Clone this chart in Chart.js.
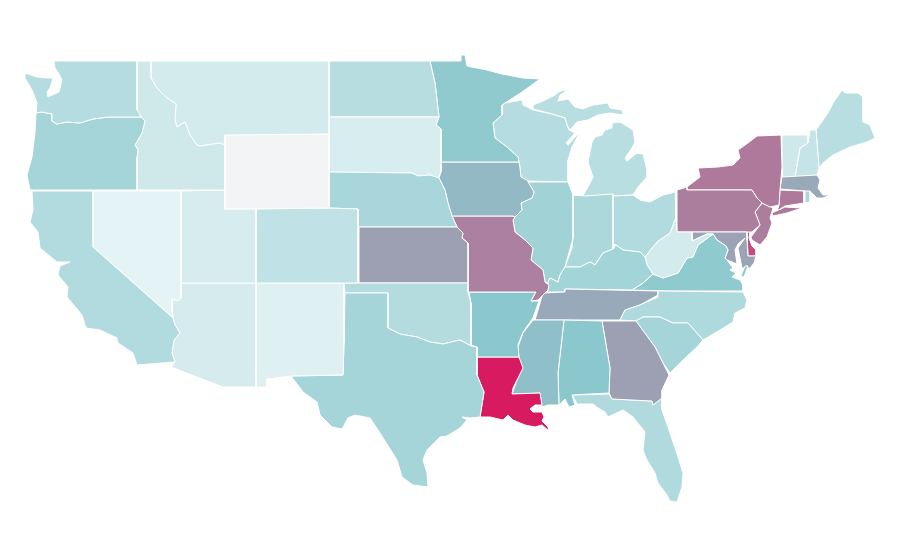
<!DOCTYPE html>
<html><head><meta charset="utf-8">
<style>html,body{margin:0;padding:0;background:#fff}#wrap{width:900px;height:560px}</style>
<script src="https://cdn.jsdelivr.net/npm/chart.js@4"></script>
</head><body><div id="wrap"><canvas id="c" width="900" height="560"></canvas></div>
<script>
// State outlines in map units, one small list per state
const WA=[[54,61],[137,61],[137,110],[139,113],[141,117],[108,117],[93,119],[80,123],[67,122],[57,124],[52,121],[52,114],[42,112],[36,113],[37,103],[32,90],[25,78],[25,73],[37,77],[48,78],[53,78],[50,88],[47,92],[48,97],[59,92],[62,80],[58,72],[55,68]];
const OR=[[36,113],[42,112],[52,114],[52,121],[57,124],[67,122],[80,123],[93,119],[108,117],[141,117],[145,121],[142,133],[135,145],[138,150],[137,157],[137,190],[30,190],[27,175],[32,157],[35,133]];
const CA=[[32,191],[93,191],[93,247],[173,318],[175,325],[180,333],[174,340],[172,353],[175,362],[137,365],[133,353],[118,343],[117,338],[100,330],[86,328],[82,315],[67,297],[68,287],[58,275],[60,266],[70,262],[57,262],[40,248],[38,232],[30,222],[33,210]];
const NV=[[93,191],[181,191],[181,298],[178,301],[172,299],[172,310],[173,318],[93,247]];
const ID=[[137,61],[151,61],[151,78],[157,88],[167,98],[176,104],[175,120],[177,127],[185,122],[190,135],[197,145],[200,146],[220,143],[225,145],[225,190],[137,190],[137,157],[138,150],[135,145],[142,133],[145,121],[141,117],[137,110]];
const MT=[[151,61],[329,61],[329,134],[225,135],[225,145],[220,143],[200,146],[197,145],[190,135],[185,122],[177,127],[175,120],[176,104],[167,98],[157,88],[151,78]];
const WY=[[225,135],[329,134],[329,208],[225,209]];
const UT=[[181,191],[225,190],[225,209],[256,209],[256,283],[181,283]];
const CO=[[256,209],[329,208],[358,209],[358,283],[256,283]];
const AZ=[[181,283],[256,283],[256,387],[223,387],[171,367],[175,362],[172,353],[174,340],[180,333],[175,325],[173,318],[172,299],[178,301],[181,298]];
const NM=[[256,283],[344,283],[344,343],[343,375],[291,376],[267,379],[267,387],[256,387]];
const TX=[[345,293],[388,293],[388,328],[400,334],[417,337],[430,342],[443,344],[460,340],[471,346],[477,347],[477,375],[484,392],[480,417],[470,418],[462,417],[467,420],[460,428],[447,436],[440,437],[427,450],[423,460],[427,473],[428,487],[413,485],[402,477],[397,460],[380,433],[370,418],[355,415],[348,418],[342,429],[332,427],[320,415],[317,402],[303,392],[291,376],[343,375],[344,343]];
const OK=[[344,283],[468,283],[468,292],[471,303],[471,346],[460,340],[443,344],[430,342],[417,337],[400,334],[388,328],[388,293],[345,293]];
const KS=[[359,227],[457,227],[463,233],[462,238],[468,243],[468,283],[359,283]];
const NE=[[329,172],[412,173],[418,176],[430,175],[439,178],[445,190],[448,203],[452,216],[457,227],[358,227],[358,209],[329,208]];
const SD=[[329,117],[439,117],[436,125],[441,129],[441,172],[438,178],[430,175],[418,176],[412,173],[329,172]];
const ND=[[329,61],[430,61],[435,83],[437,100],[439,117],[329,117]];
const MN=[[430,61],[461,61],[461,55],[465,55],[467,66],[487,70],[502,74],[523,78],[540,79],[522,92],[505,103],[502,105],[502,115],[493,123],[495,138],[507,147],[518,157],[519,162],[441,162],[441,129],[436,125],[439,117],[437,100],[435,83]];
const IA=[[441,162],[519,162],[520,168],[521,177],[527,180],[534,192],[532,198],[521,203],[522,210],[515,217],[513,216],[452,216],[448,203],[445,190],[439,178],[441,172]];
const MO=[[452,216],[513,216],[515,217],[513,220],[515,232],[525,240],[533,248],[531,260],[543,270],[545,282],[549,285],[548,290],[538,300],[531,301],[536,292],[468,292],[468,243],[462,238],[463,233],[457,227]];
const AR=[[469,292],[536,292],[531,301],[539,301],[533,318],[523,332],[518,345],[519,357],[477,357],[477,347],[471,345],[471,303]];
const LA=[[477,357],[519,357],[523,368],[513,388],[512,394],[540,393],[542,405],[535,405],[530,409],[533,412],[542,412],[544,417],[542,421],[548,427],[549,431],[542,425],[535,427],[525,425],[513,420],[508,415],[503,420],[490,417],[480,417],[484,392],[477,375]];
const MS=[[533,320],[564,320],[558,373],[559,405],[548,405],[542,407],[540,393],[512,394],[520,372],[518,347],[523,333]];
const AL=[[564,320],[602,321],[610,368],[609,393],[572,395],[575,405],[569,407],[565,399],[559,405],[558,373]];
const GA=[[602,321],[636,321],[655,347],[663,363],[669,375],[662,390],[662,398],[653,405],[652,401],[612,399],[609,393],[610,368]];
const FL=[[572,395],[609,394],[612,399],[652,401],[653,405],[662,398],[662,410],[670,433],[678,457],[683,473],[682,487],[677,502],[670,501],[667,495],[658,483],[655,473],[647,460],[643,450],[645,432],[633,417],[623,410],[608,417],[605,412],[598,408],[593,404],[577,404],[575,400]];
const SC=[[636,321],[643,317],[660,317],[673,323],[688,323],[703,340],[697,347],[683,360],[670,373],[663,363],[655,347]];
const NC=[[620,320],[625,310],[640,305],[658,297],[658,291],[743,292],[747,300],[745,308],[735,313],[733,322],[720,330],[703,340],[688,323],[673,323],[660,317],[643,317],[636,321]];
const TN=[[535,320],[543,293],[565,292],[565,289],[658,291],[658,295],[640,305],[625,310],[620,320]];
const KY=[[548,282],[550,278],[558,282],[560,275],[565,267],[580,267],[590,262],[595,265],[603,253],[613,249],[616,245],[623,250],[640,252],[645,257],[647,265],[653,274],[643,283],[632,290],[565,289],[565,292],[548,292]];
const IL=[[527,182],[568,182],[573,195],[573,238],[565,267],[560,275],[558,282],[550,278],[548,283],[545,282],[543,270],[531,260],[533,248],[525,240],[515,232],[513,220],[515,217],[522,210],[521,203],[532,198],[534,192]];
const IN=[[573,195],[585,196],[613,194],[613,244],[613,249],[603,253],[595,265],[590,262],[580,267],[565,267],[572,248],[573,238]];
const OH=[[613,196],[633,195],[640,200],[650,202],[663,195],[676,192],[676,217],[670,233],[658,241],[652,248],[645,257],[640,252],[623,250],[616,245],[613,244]];
const WV=[[676,217],[677,232],[692,232],[692,241],[707,234],[713,234],[698,245],[693,257],[687,258],[678,273],[663,278],[653,274],[647,265],[645,257],[652,248],[658,241],[670,233]];
const VA=[[632,290],[643,283],[653,274],[663,278],[678,273],[687,258],[693,257],[698,245],[713,234],[717,240],[726,246],[728,250],[725,258],[727,260],[733,268],[730,270],[736,273],[732,277],[740,280],[743,285],[743,291],[667,291]];
const VA2=[[748,266],[744,277],[741,276],[745,266]];
const MD=[[692,232],[747,232],[747,240],[748,256],[756,256],[754,263],[750,268],[742,268],[740,258],[738,248],[745,238],[738,244],[735,250],[737,264],[727,260],[725,258],[728,250],[726,246],[717,240],[713,234],[707,234],[692,241]];
const DE=[[747,232],[750,231],[749,238],[752,246],[756,250],[756,256],[748,256]];
const PA=[[677,190],[687,187],[687,190],[752,190],[757,198],[762,203],[755,212],[760,225],[752,232],[677,232]];
const NY=[[687,190],[687,187],[700,177],[698,168],[718,167],[733,165],[740,158],[738,150],[748,143],[757,136],[781,135],[782,167],[780,190],[779,205],[770,207],[762,203],[757,198],[752,190]];
const NY2=[[772,213],[785,207],[802,208],[787,213],[773,216]];
const NJ=[[762,203],[773,208],[770,218],[772,223],[767,237],[760,245],[752,240],[751,237],[760,225],[755,212]];
const CT=[[780,190],[804,191],[804,203],[785,206],[777,211],[779,205]];
const RI=[[805,191],[810,191],[810,202],[805,203]];
const MA=[[782,177],[817,175],[820,180],[818,188],[823,195],[830,195],[823,198],[817,198],[812,193],[805,191],[780,189]];
const VT=[[782,135],[808,135],[808,143],[800,148],[795,177],[783,177],[782,167]];
const NH=[[808,143],[810,130],[816,130],[819,168],[817,175],[795,177],[800,148]];
const ME=[[816,130],[828,113],[833,103],[842,90],[845,93],[858,93],[863,97],[863,122],[870,125],[875,138],[867,142],[850,147],[833,155],[823,163],[819,168]];
const WI=[[502,105],[505,103],[522,100],[523,105],[533,110],[552,114],[565,118],[567,125],[569,130],[575,133],[566,143],[568,145],[577,135],[580,132],[572,147],[568,160],[568,182],[527,181],[521,177],[520,168],[519,162],[518,157],[507,147],[495,138],[493,123],[502,115]];
const MI=[[533,109],[533,105],[543,101],[555,95],[560,91],[568,90],[560,95],[558,101],[568,99],[575,107],[583,109],[593,105],[608,103],[610,108],[622,110],[623,115],[610,113],[598,115],[588,120],[577,122],[570,130],[567,125],[565,118],[552,114]];
const MI2=[[612,123],[620,122],[633,130],[635,142],[632,148],[625,158],[627,161],[637,153],[643,154],[647,170],[647,177],[638,187],[633,195],[613,196],[582,197],[588,187],[593,177],[588,162],[592,142],[595,137],[602,135],[605,130],[612,128]];

const regionNames=["Washington","Oregon","California","Nevada","Idaho","Montana","Wyoming","Utah","Colorado","Arizona","New Mexico","Texas","Oklahoma","Kansas","Nebraska","South Dakota","North Dakota","Minnesota","Iowa","Missouri","Arkansas","Louisiana","Mississippi","Alabama","Georgia","Florida","South Carolina","North Carolina","Tennessee","Kentucky","Illinois","Indiana","Ohio","West Virginia","Virginia","Virginia","Maryland","Pennsylvania","New York","New York","New Jersey","Delaware","Connecticut","Rhode Island","Massachusetts","Vermont","New Hampshire","Maine","Wisconsin","Michigan","Michigan"];
const regionValues=[17.8,22.1,18.6,4,10.2,8.7,0,7.8,14.5,8.4,5.8,22.1,18,46.6,21.5,7.5,17.2,28.5,36,59,30,100,33.5,30,46.6,18.9,22.1,19.8,42,23,23.9,20.4,18.6,9,28.8,28.8,45,60,62,62,60,80,62,20.7,42.6,10.2,13,16.9,17.8,16.6,16.6];
const regionOutlines=[WA,OR,CA,NV,ID,MT,WY,UT,CO,AZ,NM,TX,OK,KS,NE,SD,ND,MN,IA,MO,AR,LA,MS,AL,GA,FL,SC,NC,TN,KY,IL,IN,OH,WV,VA,VA2,MD,PA,NY,NY2,NJ,DE,CT,RI,MA,VT,NH,ME,WI,MI,MI2];

const colorStops=[[0,[243,244,246]],[2,[235,246,248]],[30,[139,200,205]],[100,[216,27,96]]];
function colorOf(v){
  for(let i=1;i<colorStops.length;i++){
    const a=colorStops[i-1],b=colorStops[i];
    if(v<=b[0]){const t=(v-a[0])/(b[0]-a[0]);
      const c=a[1].map((p,k)=>Math.round(p+(b[1][k]-p)*t));
      return `rgb(${c[0]},${c[1]},${c[2]})`;}
  }
  return 'rgb(216,27,96)';
}
const datasets=regionOutlines.map((ring,i)=>({
  label:regionNames[i],
  data:[...ring,ring[0]].map(p=>({x:p[0],y:p[1]})),
  showLine:true,fill:'shape',tension:0,pointRadius:0,pointHoverRadius:0,
  backgroundColor:colorOf(regionValues[i]),borderColor:'#ffffff',borderWidth:1,borderJoinStyle:'round',clip:false
}));
new Chart(document.getElementById('c'),{
  type:'scatter',
  data:{datasets},
  options:{responsive:false,devicePixelRatio:1,animation:false,
    layout:{padding:0},
    events:[],
    plugins:{legend:{display:false},tooltip:{enabled:false},title:{display:false}},
    scales:{
      x:{type:'linear',display:false,min:0,max:900},
      y:{type:'linear',display:false,min:0,max:560,reverse:true}
    }}
});
</script></body></html>
